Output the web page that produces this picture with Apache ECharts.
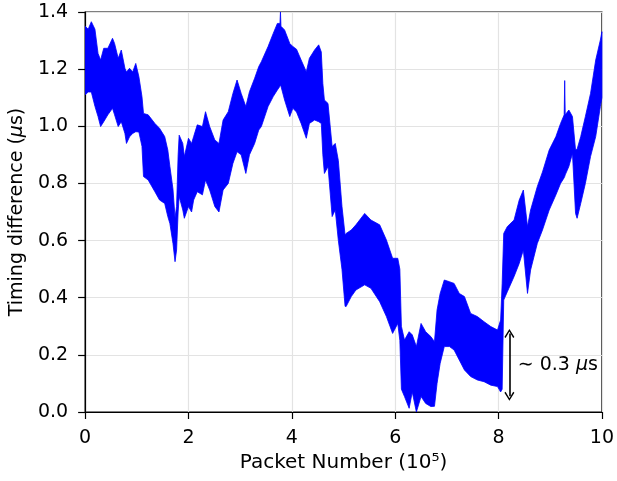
<!DOCTYPE html>
<html>
<head>
<meta charset="utf-8">
<script src="https://cdn.jsdelivr.net/npm/echarts@6/dist/echarts.min.js"></script>
<style>
html,body{margin:0;padding:0;background:#fff;}
#chart{width:617px;height:481px;}
</style>
</head>
<body>
<div id="chart"></div>
<script>
// Packet number (x 10^5)
const xs = [0.00,0.06,0.12,0.19,0.25,0.30,0.36,0.44,0.53,0.57,0.64,0.70,0.77,0.80,0.86,0.92,0.98,1.04,1.10,1.13,1.22,1.35,1.44,1.54,1.60,1.64,1.70,1.74,1.77,1.80,1.82,1.89,1.92,2.00,2.06,2.10,2.17,2.27,2.33,2.41,2.51,2.59,2.67,2.77,2.86,2.94,3.02,3.11,3.18,3.28,3.36,3.41,3.54,3.64,3.72,3.77,3.78,3.79,3.86,3.96,4.02,4.09,4.18,4.28,4.34,4.44,4.52,4.57,4.60,4.63,4.70,4.78,4.84,4.90,4.97,5.03,5.05,5.15,5.24,5.41,5.53,5.70,5.83,5.95,6.05,6.09,6.12,6.18,6.27,6.33,6.41,6.50,6.59,6.69,6.76,6.81,6.87,6.95,7.05,7.14,7.24,7.34,7.46,7.59,7.72,7.85,7.98,8.04,8.07,8.10,8.17,8.30,8.40,8.48,8.56,8.62,8.75,8.85,8.98,9.11,9.20,9.27,9.28,9.29,9.36,9.43,9.49,9.52,9.59,9.68,9.78,9.88,9.97,10.00];
// Upper envelope of timing difference (us)
const upper = [1.35,1.34,1.366,1.34,1.255,1.232,1.273,1.273,1.308,1.29,1.238,1.267,1.203,1.19,1.203,1.19,1.22,1.174,1.104,1.045,1.04,1.01,0.993,0.964,0.917,0.86,0.78,0.68,0.72,0.90,0.969,0.94,0.894,0.958,0.94,0.964,1.005,0.999,1.051,0.999,0.952,0.94,1.022,1.051,1.115,1.162,1.115,1.069,1.121,1.168,1.209,1.226,1.279,1.325,1.36,1.36,1.40,1.35,1.337,1.29,1.279,1.27,1.232,1.191,1.238,1.267,1.285,1.26,1.15,1.092,1.08,0.929,0.94,0.88,0.72,0.62,0.625,0.637,0.655,0.695,0.672,0.655,0.602,0.538,0.538,0.50,0.30,0.252,0.281,0.27,0.229,0.31,0.281,0.264,0.246,0.357,0.415,0.462,0.456,0.45,0.415,0.404,0.345,0.334,0.316,0.299,0.287,0.322,0.45,0.625,0.649,0.672,0.742,0.777,0.649,0.707,0.789,0.84,0.917,0.964,1.01,1.04,1.16,1.04,1.057,1.034,0.917,0.92,0.964,1.034,1.115,1.232,1.302,1.331];
// Lower envelope of timing difference (us)
const lower = [1.11,1.12,1.12,1.07,1.034,0.999,1.016,1.04,1.063,1.04,0.999,1.016,0.975,0.94,0.963,0.975,0.981,0.98,0.93,0.824,0.812,0.771,0.742,0.73,0.684,0.66,0.59,0.526,0.567,0.70,0.754,0.707,0.678,0.719,0.70,0.742,0.771,0.76,0.812,0.777,0.719,0.70,0.777,0.80,0.87,0.911,0.90,0.835,0.90,0.94,0.987,0.999,1.069,1.104,1.127,1.14,1.145,1.14,1.092,1.034,1.063,1.05,1.01,0.958,1.01,1.022,1.016,1.01,0.90,0.835,0.859,0.684,0.707,0.60,0.50,0.37,0.369,0.404,0.427,0.445,0.433,0.386,0.334,0.275,0.31,0.25,0.08,0.054,0.013,0.07,0.0,0.054,0.03,0.019,0.02,0.10,0.17,0.229,0.229,0.217,0.182,0.147,0.124,0.112,0.106,0.094,0.089,0.07,0.08,0.392,0.421,0.474,0.52,0.567,0.415,0.497,0.59,0.637,0.707,0.76,0.80,0.82,0.824,0.83,0.859,0.905,0.695,0.678,0.73,0.80,0.894,0.964,1.069,1.10];
// Tick values
const xTicks = [0,2,4,6,8,10];
const yTicks = [0.0,0.2,0.4,0.6,0.8,1.0,1.2,1.4];
// Annotation: arrow span and label
const arrowX = 8.21;
const arrowY = [0.275, 0.055];
const noteText = '∼ 0.3 {it|μ}s';
const notePos = [8.37, 0.165];

const FONT = 'DejaVu Sans';
const bandRows = xs.map((x, i) => [x, lower[i], upper[i]]);
const CHEVRON = 'path://M50,0 L100,78 L88,88 L50,26 L12,88 L0,78 Z';

function renderBand(params, api) {
  if (params.dataIndex !== 0) return null;
  const pts = [];
  for (let i = 0; i < bandRows.length; i++) pts.push(api.coord([bandRows[i][0], bandRows[i][2]]));
  for (let i = bandRows.length - 1; i >= 0; i--) pts.push(api.coord([bandRows[i][0], bandRows[i][1]]));
  return {
    type: 'polygon',
    shape: {points: pts},
    style: {fill: '#0000ff', stroke: '#0000ff', lineWidth: 0.8},
    silent: true
  };
}

const chart = echarts.init(document.getElementById('chart'), null, {renderer: 'canvas'});
chart.setOption({
  animation: false,
  backgroundColor: '#ffffff',
  grid: {left: 85, right: 14, top: 12, bottom: 69, show: true, borderColor: '#000', borderWidth: 1.2, backgroundColor: 'transparent'},
  xAxis: {
    type: 'value', min: xTicks[0], max: xTicks[xTicks.length - 1], interval: 2,
    name: 'Packet Number (10⁵)', nameLocation: 'middle', nameGap: 40,
    nameTextStyle: {fontFamily: FONT, fontSize: 20, color: '#000'},
    axisLine: {show: true, onZero: false, lineStyle: {color: '#000', width: 1.2}},
    axisTick: {show: true, length: 7, inside: false, lineStyle: {color: '#000', width: 1.2}},
    axisLabel: {fontFamily: FONT, fontSize: 19, color: '#000', margin: 17},
    splitLine: {show: true, lineStyle: {color: '#e3e3e3', width: 1.2}}
  },
  yAxis: {
    type: 'value', min: yTicks[0], max: yTicks[yTicks.length - 1], interval: 0.2,
    name: 'Timing difference ({it|μ}s)', nameLocation: 'middle', nameGap: 58,
    nameTextStyle: {fontFamily: FONT, fontSize: 19, color: '#000', rich: {it: {fontFamily: FONT, fontSize: 19, fontStyle: 'italic', color: '#000'}}},
    axisLine: {show: true, onZero: false, lineStyle: {color: '#000', width: 1.2}},
    axisTick: {show: true, length: 7, lineStyle: {color: '#000', width: 1.2}},
    axisLabel: {fontFamily: FONT, fontSize: 19, color: '#000', margin: 17, formatter: v => v.toFixed(1)},
    splitLine: {show: true, lineStyle: {color: '#e3e3e3', width: 1.2}}
  },
  series: [
    {
      name: 'band', type: 'custom', renderItem: renderBand,
      data: bandRows, encode: {x: 0, y: [1, 2]}, clip: true, silent: true, z: 2
    },
    {
      name: 'annotation', type: 'line', data: [], z: 5,
      markLine: {
        silent: true, animation: false,
        symbol: [CHEVRON, CHEVRON], symbolSize: [10, 9],
        lineStyle: {color: '#000', width: 1.6, type: 'solid'},
        itemStyle: {color: '#000'},
        label: {show: false},
        data: [[{coord: [arrowX, arrowY[0]]}, {coord: [arrowX, arrowY[1]]}]]
      },
      markPoint: {
        silent: true, animation: false,
        symbol: 'circle', symbolSize: 0,
        label: {show: true, position: 'right', distance: 0, formatter: noteText,
          fontFamily: FONT, fontSize: 19, color: '#000',
          rich: {it: {fontFamily: FONT, fontSize: 19, fontStyle: 'italic', color: '#000'}}},
        data: [{coord: notePos, value: 0}]
      }
    }
  ]
});
</script>
</body>
</html>
